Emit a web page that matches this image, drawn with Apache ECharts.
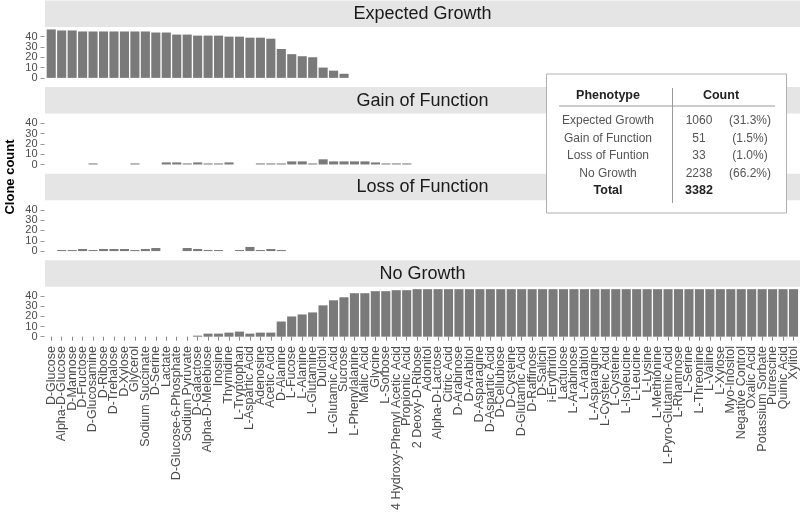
<!DOCTYPE html>
<html>
<head>
<meta charset="utf-8">
<title>Clone count by phenotype</title>
<style>
  html, body { margin: 0; padding: 0; background: #fff; }
  #chart { width: 800px; height: 513px; }
</style>
<script src="https://cdn.jsdelivr.net/npm/echarts@6/dist/echarts.min.js"></script>
</head>
<body>
<div id="chart"></div>
<script>
// carbon sources, in plot order
const categories = [
  'D-Glucose', 'Alpha-D-Glucose', 'D-Mannose', 'D-Fructose', 'D-Glucosamine', 'D-Ribose',
  'D-Trehalose', 'D-Xylose', 'Glycerol', 'Sodium Succinate', 'D-Serine', 'Lactate',
  'D-Glucose-6-Phosphate', 'Sodium Pyruvate', 'D-Galactose', 'Alpha-D-Melebiose', 'Inosine', 'Thymidine',
  'L-Tryptophan', 'L-Aspartic Acid', 'Adenosine', 'Acetic Acid', 'D-Alanine', 'L-Fucose',
  'L-Alanine', 'L-Glutamine', 'Dulcitol', 'L-Glutamic Acid', 'Sucrose', 'L-Phenylalanine',
  'Malic Acid', 'Glycine', 'L-Sorbose', '4 Hydroxy-Phenyl Acetic Acid', 'Propionic Acid', '2 Deoxy-D-Ribose',
  'Adonitol', 'Alpha-D-Lactose', 'Citric Acid', 'D-Arabinose', 'D-Arabitol', 'D-Asparagine',
  'D-Aspartic Acid', 'D-Cellubiose', 'D-Cysteine', 'D-Glutamic Acid', 'D-Raffinose', 'D-Salicin',
  'i-Erythritol', 'Lactulose', 'L-Arabinose', 'L-Arabitol', 'L-Asparagine', 'L-Cysteic Acid',
  'L-Cysteine', 'L-Isoleucine', 'L-Leucine', 'L-Lysine', 'L-Methionine', 'L-Pyro-Glutamic Acid',
  'L-Rhamnose', 'L-Serine', 'L-Threonine', 'L-Valine', 'L-Xylose', 'Myo-Inositol',
  'Negative Control', 'Oxalic Acid', 'Potassium Sorbate', 'Putrescine', 'Quinic Acid', 'Xylitol'
]

const expectedGrowth = [
  47, 46, 46, 45, 45, 45, 45, 45, 45, 45, 44, 44,
  42, 42, 41, 41, 41, 40, 40, 39, 39, 38, 28, 23,
  21, 20, 10, 7, 4, 0, 0, 0, 0, 0, 0, 0,
  0, 0, 0, 0, 0, 0, 0, 0, 0, 0, 0, 0,
  0, 0, 0, 0, 0, 0, 0, 0, 0, 0, 0, 0,
  0, 0, 0, 0, 0, 0, 0, 0, 0, 0, 0, 0
]

const gainOfFunction = [
  0, 0, 0, 0, 1, 0, 0, 0, 1, 0, 0, 2,
  2, 1, 2, 1, 1, 2, 0, 0, 1, 1, 1, 3,
  3, 1, 5, 3, 3, 3, 3, 2, 1, 1, 1, 0,
  0, 0, 0, 0, 0, 0, 0, 0, 0, 0, 0, 0,
  0, 0, 0, 0, 0, 0, 0, 0, 0, 0, 0, 0,
  0, 0, 0, 0, 0, 0, 0, 0, 0, 0, 0, 0
]

const lossOfFunction = [
  0, 1, 1, 2, 1, 2, 2, 2, 1, 2, 3, 0,
  0, 3, 2, 1, 1, 0, 1, 4, 1, 2, 1, 0,
  0, 0, 0, 0, 0, 0, 0, 0, 0, 0, 0, 0,
  0, 0, 0, 0, 0, 0, 0, 0, 0, 0, 0, 0,
  0, 0, 0, 0, 0, 0, 0, 0, 0, 0, 0, 0,
  0, 0, 0, 0, 0, 0, 0, 0, 0, 0, 0, 0
]

const noGrowth = [
  0, 0, 0, 0, 0, 0, 0, 0, 0, 0, 0, 0,
  0, 0, 1, 3, 3, 4, 5, 3, 4, 4, 15, 20,
  22, 24, 31, 36, 39, 43, 43, 45, 45, 46, 46, 47,
  47, 47, 47, 47, 47, 47, 47, 47, 47, 47, 47, 47,
  47, 47, 47, 47, 47, 47, 47, 47, 47, 47, 47, 47,
  47, 47, 47, 47, 47, 47, 47, 47, 47, 47, 47, 47
]

// y ticks, split over two overlaid axes so echarts keeps all of them
const yTicksEven = [0, 20, 40]
const yTicksOdd = [10, 30]
const yMin = -2.35
const yMax = 49.35

// summary table
const tablePhenotypes = ['Expected Growth', 'Gain of Function', 'Loss of Funtion', 'No Growth']
const tableCounts = [1060, 51, 33, 2238]
const tablePercents = ['(31.3%)', '(1.5%)', '(1.0%)', '(66.2%)']
const tableTotal = 3382

const panelNames = ['Expected Growth', 'Gain of Function', 'Loss of Function', 'No Growth']
const panelValues = [expectedGrowth, gainOfFunction, lossOfFunction, noGrowth]

// layout (px)
const plotLeft = 45
const plotRight = 800
const stripTop0 = 0.5
const period = 86.6
const stripH = 26.5
const panelH = 53.3

const grids = []
const xAxes = []
const yAxes = []
const series = []
const graphics = []

const makeYAxis = (gridIndex, ticks) => ({
  type: 'value',
  gridIndex: gridIndex,
  position: 'left',
  offset: 1.5,
  min: yMin,
  max: yMax,
  axisLine: { show: false },
  axisTick: {
    show: true,
    length: 4,
    customValues: ticks,
    lineStyle: { color: '#999' }
  },
  axisLabel: {
    customValues: ticks,
    margin: 7,
    fontSize: 11,
    fontFamily: 'Liberation Sans',
    color: '#4d4d4d'
  },
  splitLine: { show: false }
})

panelValues.forEach((values, i) => {
  const stripTop = stripTop0 + i * period
  const isLast = i === panelValues.length - 1

  grids.push({
    left: plotLeft + 1,
    right: 800 - plotRight + 1,
    top: stripTop + stripH,
    height: panelH
  })

  xAxes.push({
    type: 'category',
    gridIndex: i,
    data: categories,
    axisLine: { show: false },
    axisTick: {
      show: isLast,
      alignWithLabel: true,
      length: 4,
      lineStyle: { color: '#8a8a8a' }
    },
    axisLabel: {
      show: isLast,
      interval: 0,
      rotate: 90,
      margin: 7,
      fontSize: 12.5,
      fontFamily: 'Liberation Sans',
      color: '#4d4d4d'
    },
    splitLine: { show: false }
  })

  yAxes.push(makeYAxis(i, yTicksEven))
  yAxes.push(makeYAxis(i, yTicksOdd))

  series.push({
    type: 'bar',
    name: panelNames[i],
    xAxisIndex: i,
    yAxisIndex: i * 2,
    data: values,
    barWidth: '87%',
    itemStyle: { color: '#7a7a7a' },
    silent: true
  })

  // facet strip
  graphics.push({
    type: 'rect',
    shape: { x: plotLeft, y: stripTop, width: plotRight - plotLeft, height: stripH },
    style: { fill: '#e5e5e5' },
    silent: true
  })
  graphics.push({
    type: 'text',
    x: (plotLeft + plotRight) / 2,
    y: stripTop + stripH / 2 + 0.5,
    style: {
      text: panelNames[i],
      fill: '#1a1a1a',
      font: '18px "Liberation Sans"',
      textAlign: 'center',
      textVerticalAlign: 'middle'
    },
    silent: true
  })
})

// y axis title
graphics.push({
  type: 'text',
  x: 10,
  y: 177,
  rotation: Math.PI / 2,
  style: {
    text: 'Clone count',
    fill: '#000',
    font: 'bold 13px "Liberation Sans"',
    textAlign: 'center',
    textVerticalAlign: 'middle'
  },
  silent: true
})

// summary table box
const tb = { x: 546.5, y: 74, w: 240, h: 139 }
const colName = 608
const colCount = 699
const colPct = 750
const rowY = [121, 138.5, 156, 173.5]
const tableEls = [
  {
    type: 'rect',
    shape: { x: tb.x, y: tb.y, width: tb.w, height: tb.h },
    style: { fill: '#fff', stroke: '#b0b0b0', lineWidth: 1 }
  },
  {
    type: 'line',
    shape: { x1: 559, y1: 106, x2: 775, y2: 106 },
    style: { stroke: '#9a9a9a', lineWidth: 1 }
  },
  {
    type: 'line',
    shape: { x1: 672.5, y1: 88, x2: 672.5, y2: 203 },
    style: { stroke: '#9a9a9a', lineWidth: 1 }
  },
  {
    type: 'text', x: colName, y: 96,
    style: { text: 'Phenotype', fill: '#222', font: 'bold 12.5px "Liberation Sans"', textAlign: 'center', textVerticalAlign: 'middle' }
  },
  {
    type: 'text', x: 721, y: 96,
    style: { text: 'Count', fill: '#222', font: 'bold 12.5px "Liberation Sans"', textAlign: 'center', textVerticalAlign: 'middle' }
  }
]
tablePhenotypes.forEach((name, i) => {
  const rowStyle = { fill: '#555', font: '12px "Liberation Sans"', textAlign: 'center', textVerticalAlign: 'middle' }
  tableEls.push({ type: 'text', x: colName, y: rowY[i], style: Object.assign({ text: name }, rowStyle) })
  tableEls.push({ type: 'text', x: colCount, y: rowY[i], style: Object.assign({ text: String(tableCounts[i]) }, rowStyle) })
  tableEls.push({ type: 'text', x: colPct, y: rowY[i], style: Object.assign({ text: tablePercents[i] }, rowStyle) })
})
tableEls.push({
  type: 'text', x: colName, y: 190.5,
  style: { text: 'Total', fill: '#222', font: 'bold 12.5px "Liberation Sans"', textAlign: 'center', textVerticalAlign: 'middle' }
})
tableEls.push({
  type: 'text', x: colCount, y: 190.5,
  style: { text: String(tableTotal), fill: '#222', font: 'bold 12.5px "Liberation Sans"', textAlign: 'center', textVerticalAlign: 'middle' }
})
graphics.push({ type: 'group', silent: true, z: 100, children: tableEls })

const chart = echarts.init(document.getElementById('chart'), null, { renderer: 'canvas' })
chart.setOption({
  animation: false,
  backgroundColor: '#fff',
  grid: grids,
  xAxis: xAxes,
  yAxis: yAxes,
  series: series,
  graphic: graphics
})
</script>
</body>
</html>
